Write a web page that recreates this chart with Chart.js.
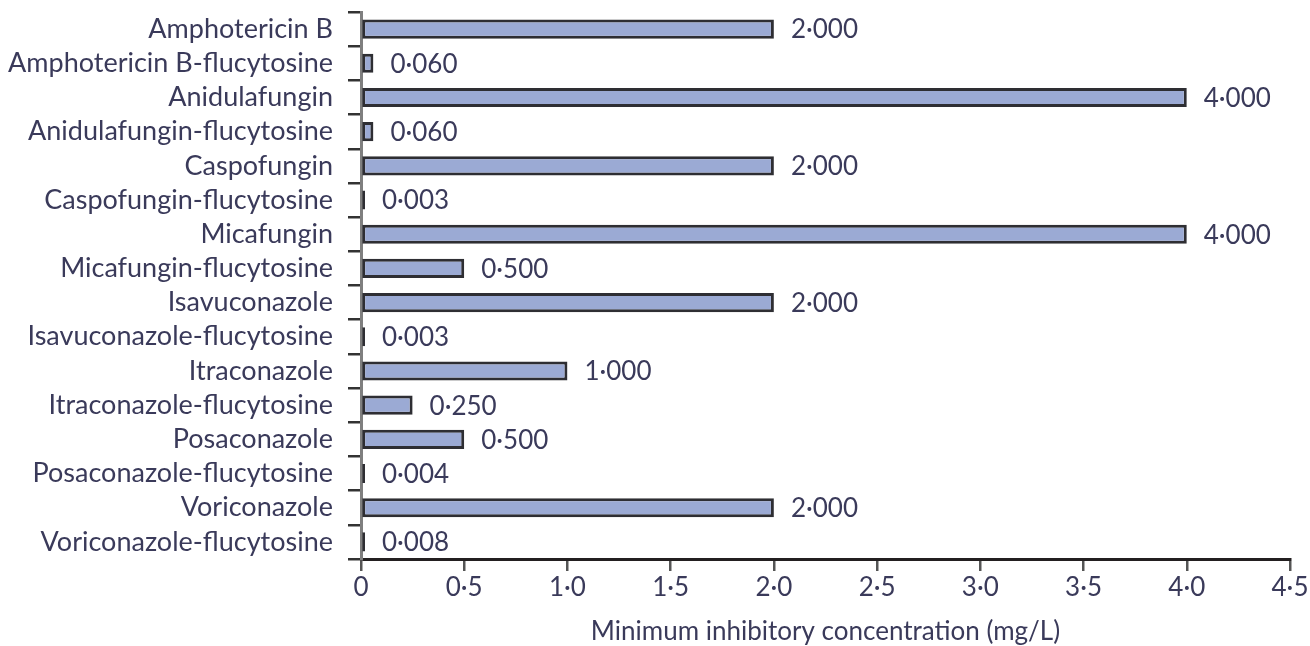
<!DOCTYPE html>
<html>
<head>
<meta charset="utf-8">
<script src="https://cdn.jsdelivr.net/npm/chart.js@4/dist/chart.umd.min.js"></script>
<style>
  html, body { margin: 0; padding: 0; background: #ffffff; }
  #wrap { width: 1310px; height: 646px; position: relative; }
</style>
</head>
<body>
<div id="wrap"><canvas id="mic"></canvas></div>
<script>
// Antifungal agents, alone and combined with flucytosine
const drugs = [
  'Amphotericin B',
  'Amphotericin B-flucytosine',
  'Anidulafungin',
  'Anidulafungin-flucytosine',
  'Caspofungin',
  'Caspofungin-flucytosine',
  'Micafungin',
  'Micafungin-flucytosine',
  'Isavuconazole',
  'Isavuconazole-flucytosine',
  'Itraconazole',
  'Itraconazole-flucytosine',
  'Posaconazole',
  'Posaconazole-flucytosine',
  'Voriconazole',
  'Voriconazole-flucytosine'
];

// Minimum inhibitory concentration, mg/L
const micValues = [2, 0.06, 4, 0.06, 2, 0.003, 4, 0.5, 2, 0.003, 1, 0.25, 0.5, 0.004, 2, 0.008];

// Axis tick labels (decimal point written as a middle dot)
const xTickLabels = ['0', '0·5', '1·0', '1·5', '2·0', '2·5', '3·0', '3·5', '4·0', '4·5'];

const TEXT = '#3a3a5a';
const FONT = 'Lato, "DejaVu Sans", sans-serif';

function formatMic(v) {
  return v.toFixed(3).replace('.', '·');
}

// Writes each bar's value just past its end
const valueLabels = {
  id: 'valueLabels',
  afterDatasetsDraw(chart) {
    const ctx = chart.ctx;
    const meta = chart.getDatasetMeta(0);
    ctx.save();
    ctx.font = '26px ' + FONT;
    ctx.fillStyle = TEXT;
    ctx.textAlign = 'left';
    ctx.textBaseline = 'middle';
    meta.data.forEach((bar, i) => {
      ctx.fillText(formatMic(micValues[i]), bar.x + 17, bar.y + 1);
    });
    ctx.restore();
  }
};

new Chart(document.getElementById('mic'), {
  type: 'bar',
  data: {
    labels: drugs,
    datasets: [{
      data: micValues,
      backgroundColor: '#9baad4',
      borderColor: '#2e2e33',
      borderWidth: 3,
      borderSkipped: false,
      barPercentage: 0.56,
      categoryPercentage: 1,
      minBarLength: 4
    }]
  },
  options: {
    indexAxis: 'y',
    responsive: true,
    maintainAspectRatio: false,
    animation: false,
    layout: { padding: { top: 12, right: 20, bottom: 0, left: 0 } },
    plugins: {
      legend: { display: false },
      tooltip: { enabled: false }
    },
    scales: {
      x: {
        min: 0,
        max: 4.5,
        afterFit(scale) { scale.height = 87; },
        ticks: {
          stepSize: 0.5,
          padding: 1,
          color: TEXT,
          font: { family: FONT, size: 26 },
          maxRotation: 0,
          callback: (v, i) => xTickLabels[i]
        },
        grid: {
          drawOnChartArea: false,
          drawTicks: true,
          tickLength: 12,
          color: '#555555',
          lineWidth: 2.5
        },
        border: { display: true, color: '#231f20', width: 3 },
        title: {
          display: true,
          text: 'Minimum inhibitory concentration (mg/L)',
          color: TEXT,
          font: { family: FONT, size: 26, lineHeight: 1 },
          padding: { top: 0, bottom: 1 }
        }
      },
      y: {
        afterFit(scale) {
          scale.width = 361;
          scale.paddingTop = 0;
          scale.paddingBottom = 0;
        },
        ticks: {
          autoSkip: false,
          padding: 15,
          color: TEXT,
          font: { family: FONT, size: 27 }
        },
        grid: {
          offset: true,
          drawOnChartArea: false,
          drawTicks: true,
          tickLength: 13,
          color: '#333333',
          lineWidth: 2.5
        },
        border: { display: true, color: '#7f7f7f', width: 3 }
      }
    }
  },
  plugins: [valueLabels]
});
</script>
</body>
</html>
